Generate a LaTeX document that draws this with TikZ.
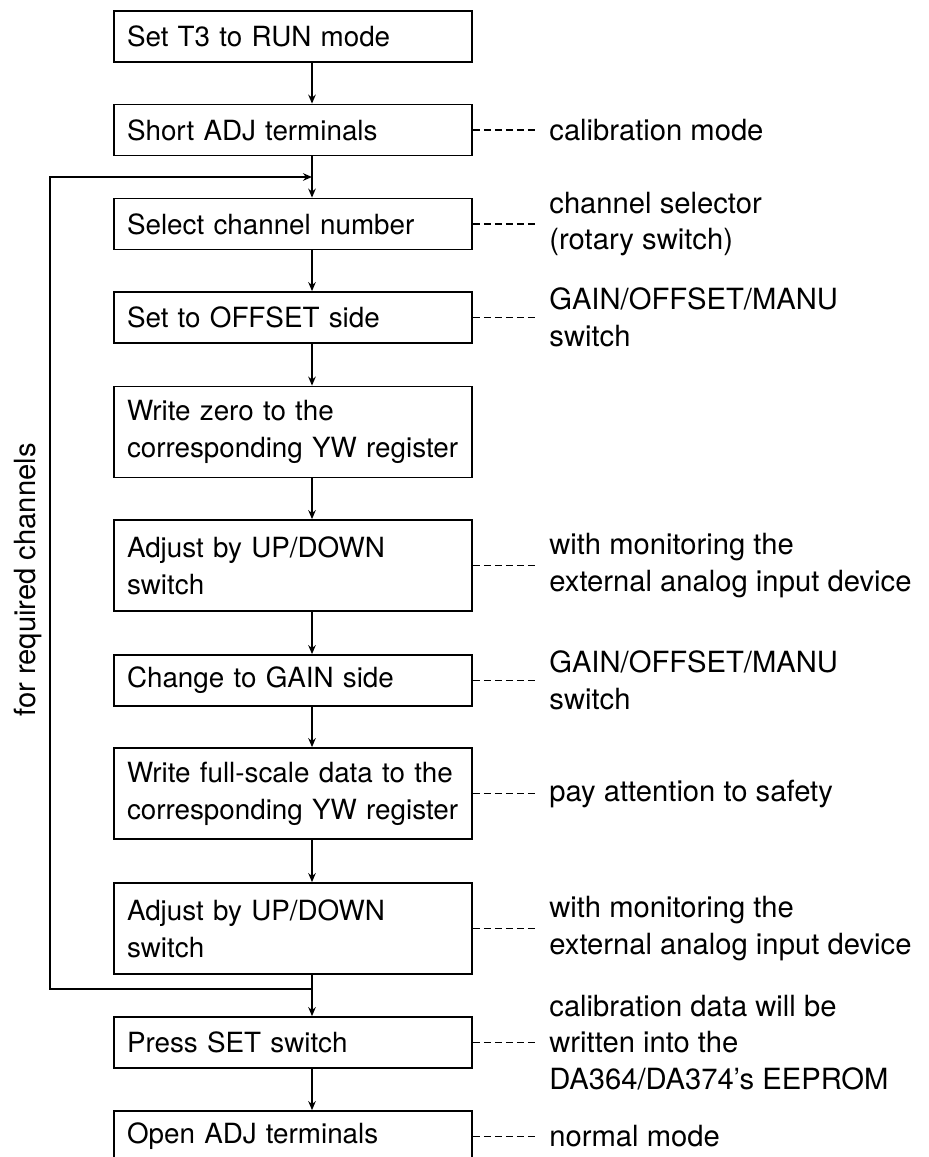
\documentclass[tikz,border=0pt]{standalone}
\usepackage{fontspec}
\setmainfont{TeX Gyre Heros}
\usetikzlibrary{arrows.meta}

\begin{document}
\begin{tikzpicture}[x=0.5pt, y=-0.5pt,
    txt/.style={font=\fontsize{13.9}{18.4}\selectfont},
    bigtxt/.style={font=\fontsize{14.6}{18.3}\selectfont},
    box/.style={txt, draw, line width=0.9pt, text width=166pt, inner xsep=6.5pt, inner ysep=0pt, align=left, minimum height=25.5pt},
    tall/.style={minimum height=45.5pt},
    note/.style={bigtxt, anchor=west, inner xsep=6pt, inner ysep=0pt, align=left},
    arr/.style={line width=0.7pt, -{Stealth[length=4.5pt, width=3.8pt]}},
    leader/.style={line width=0.7pt, dash pattern=on 3.5pt off 2pt}]
    \useasboundingbox (0,0) rectangle (929,1157);
    \coordinate (spine) at (312,0);
    %Steps
    \node [box] (run) at (293,36.5) {Set T3 to RUN mode};
    \node [box] (short) at (293,130) {Short ADJ terminals};
    \node [box] (select) at (293,224) {Select channel number};
    \node [box] (offset) at (293,317.5) {Set to OFFSET side};
    \node [box, tall] (zero) at (293,432) {Write zero to the\\corresponding YW register};
    \node [box, tall] (adjlow) at (293,565.5) {Adjust by UP/DOWN\\switch};
    \node [box] (gain) at (293,680.5) {Change to GAIN side};
    \node [box, tall] (full) at (293,793.5) {Write full-scale data to the\\corresponding YW register};
    \node [box, tall] (adjhigh) at (293,928.5) {Adjust by UP/DOWN\\switch};
    \node [box] (set) at (293,1042.5) {Press SET switch};
    \node [box] (open) at (293,1136.5) {Open ADJ terminals};

    %Down
    \draw [arr] (run.south -| spine) -- (short.north -| spine);
    \draw [arr] (short.south -| spine) -- (select.north -| spine);
    \draw [arr] (select.south -| spine) -- (offset.north -| spine);
    \draw [arr] (offset.south -| spine) -- (zero.north -| spine);
    \draw [arr] (zero.south -| spine) -- (adjlow.north -| spine);
    \draw [arr] (adjlow.south -| spine) -- (gain.north -| spine);
    \draw [arr] (gain.south -| spine) -- (full.north -| spine);
    \draw [arr] (full.south -| spine) -- (adjhigh.north -| spine);
    \draw [arr] (adjhigh.south -| spine) -- (set.north -| spine);
    \draw [arr] (set.south -| spine) -- (open.north -| spine);

    %Loop
    \coordinate (looptop) at (50,177);
    \coordinate (loopbot) at (50,989);
    \draw [arr] (loopbot -| spine) -- (loopbot) -- (looptop) -- (looptop -| spine);
    \node [bigtxt, rotate=90, inner sep=0pt] (loopnote) at (28,580) {for required channels};

    %Notes
    \node [note] (calnote) at (537,130) {calibration mode};
    \node [note] (selnote) at (537,224) {channel selector\\(rotary switch)};
    \node [note] (offnote) at (537,317.5) {GAIN/OFFSET/MANU\\switch};
    \node [note] (lownote) at (537,565.5) {with monitoring the\\external analog input device};
    \node [note] (gainnote) at (537,680.5) {GAIN/OFFSET/MANU\\switch};
    \node [note] (fullnote) at (537,793.5) {pay attention to safety};
    \node [note] (highnote) at (537,928.5) {with monitoring the\\external analog input device};
    \node [note] (setnote) at (537,1042.5) {calibration data will be\\written into the\\DA364/DA374's EEPROM};
    \node [note] (opennote) at (537,1136.5) {normal mode};
    \draw [leader] (short.east) -- (calnote.west);
    \draw [leader] (select.east) -- (selnote.west);
    \draw [leader] (offset.east) -- (offnote.west);
    \draw [leader] (adjlow.east) -- (lownote.west);
    \draw [leader] (gain.east) -- (gainnote.west);
    \draw [leader] (full.east) -- (fullnote.west);
    \draw [leader] (adjhigh.east) -- (highnote.west);
    \draw [leader] (set.east) -- (setnote.west);
    \draw [leader] (open.east) -- (opennote.west);
\end{tikzpicture}
\end{document}
